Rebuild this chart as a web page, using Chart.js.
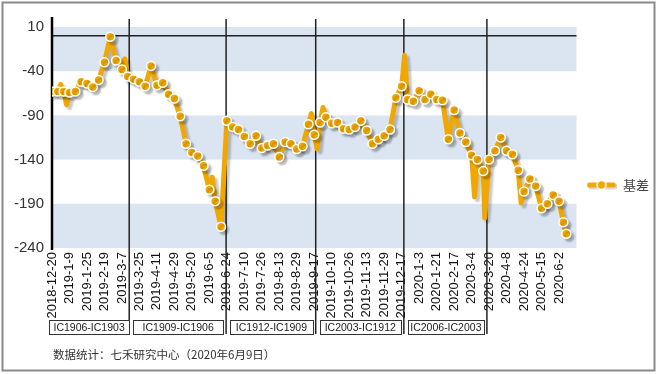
<!DOCTYPE html>
<html>
<head>
<meta charset="utf-8">
<script src="https://cdn.jsdelivr.net/npm/chart.js@4.4.1/dist/chart.umd.min.js"></script>
<style>
  body { margin: 0; background: #fff; }
  canvas { display: block; }
</style>
</head>
<body>
<canvas id="chart" width="659" height="374"></canvas>
<script>
// x axis is the trading-day index; one date label every 12 sessions
const dateLabels = ['2018-12-20', '2019-1-9', '2019-1-25', '2019-2-19', '2019-3-7', '2019-3-25',
    '2019-4-11', '2019-4-29', '2019-5-20', '2019-6-5', '2019-6-24', '2019-7-10', '2019-7-26',
    '2019-8-13', '2019-8-29', '2019-9-17', '2019-10-10', '2019-10-26', '2019-11-13', '2019-11-29',
    '2019-12-17', '2020-1-3', '2020-1-21', '2020-2-17', '2020-3-4', '2020-3-20', '2020-4-8',
    '2020-4-24', '2020-5-15', '2020-6-2'];
const labelStep = 12;

// points shown with a marker
const markerDays = [0, 4, 8, 12, 16, 20, 24, 28, 32, 36, 40, 44, 48, 52, 56, 60, 64, 68, 72, 76,
    80, 84, 88, 92, 96, 100, 104, 108, 112, 116, 120, 124, 128, 132, 136, 140, 144, 148, 152, 156,
    160, 164, 168, 172, 176, 180, 184, 188, 192, 196, 200, 204, 208, 212, 216, 220, 224, 228, 232,
    236, 240, 244, 248, 252, 256, 260, 264, 268, 272, 276, 280, 284, 288, 292, 296, 300, 304, 308,
    312, 316, 320, 324, 328, 332, 336, 340, 344, 348, 351, 353];
const markerValues = [-63, -63, -63, -64, -63, -52, -54, -58, -50, -30, -1, -28, -38, -46, -49, -52,
    -57, -34, -56, -53, -66, -71, -91, -122, -132, -136, -147, -174, -187, -216, -96, -103, -106,
    -114, -122, -113, -127, -124, -122, -137, -120, -122, -128, -125, -100, -112, -98, -92, -99,
    -98, -105, -106, -103, -96, -107, -122, -117, -113, -106, -70, -57, -72, -74, -62, -72, -66,
    -72, -73, -117, -84, -110, -120, -135, -140, -153, -140, -130, -115, -130, -134, -152, -176,
    -162, -170, -195, -190, -180, -187, -211, -224];

// one-day spikes visible in the line but without a marker
const spikeDays = [6, 10, 50, 110, 178, 182, 186, 242, 290, 297, 322];
const spikeValues = [-55, -78, -26, -160, -88, -128, -81, -22, -182, -206, -189];

// contract roll dates and the spread shown in each segment
const rollDays = [53, 119.5, 181, 241.5, 298.5];
const contracts = ['IC1906-IC1903', 'IC1909-IC1906', 'IC1912-IC1909', 'IC2003-IC1912', 'IC2006-IC2003'];

const yTicks = [-240, -190, -140, -90, -40, 10];

const orange = '#f0a800';

let points = markerDays.map((d, i) => ({ x: d, y: markerValues[i], mark: true }))
    .concat(spikeDays.map((d, i) => ({ x: d, y: spikeValues[i], mark: false })));
points.sort((a, b) => a.x - b.x);

// legend symbol: line with a marker in the middle
const legendIcon = document.createElement('canvas');
legendIcon.width = 30;
legendIcon.height = 12;
const ic = legendIcon.getContext('2d');
ic.lineCap = 'round';
ic.lineWidth = 5;
ic.strokeStyle = 'rgba(0,0,0,0.15)';
ic.beginPath(); ic.moveTo(4, 8); ic.lineTo(28, 8); ic.stroke();
ic.strokeStyle = orange;
ic.beginPath(); ic.moveTo(3, 6); ic.lineTo(27, 6); ic.stroke();
ic.beginPath(); ic.arc(15, 6, 4.5, 0, Math.PI * 2);
ic.fillStyle = orange; ic.fill();
ic.lineWidth = 1.5; ic.strokeStyle = '#fff'; ic.stroke();

const decor = {
    id: 'decor',
    beforeDatasetsDraw(chart) {
        const { ctx, chartArea: a, scales: { x, y } } = chart;
        ctx.save();
        ctx.fillStyle = '#dbe5f1';
        for (let i = 0; i < yTicks.length - 1; i += 2) {
            const top = y.getPixelForValue(yTicks[i + 1]);
            const bot = y.getPixelForValue(yTicks[i]);
            ctx.fillRect(a.left, top, a.right - a.left, bot - top);
        }
        ctx.strokeStyle = '#222';
        ctx.lineWidth = 1.5;
        const y0 = y.getPixelForValue(0);
        ctx.beginPath(); ctx.moveTo(a.left, y0); ctx.lineTo(a.right, y0); ctx.stroke();
        rollDays.forEach(d => {
            const px = x.getPixelForValue(d);
            ctx.beginPath(); ctx.moveTo(px, a.top - 8); ctx.lineTo(px, 334); ctx.stroke();
        });
        ctx.lineWidth = 2.5;
        ctx.strokeStyle = '#000';
        ctx.beginPath(); ctx.moveTo(a.left, a.top - 10); ctx.lineTo(a.left, a.bottom + 2); ctx.stroke();
        ctx.restore();
    },
    beforeDatasetDraw(chart) {
        const ctx = chart.ctx;
        ctx.save();
        ctx.shadowColor = 'rgba(0,0,0,0.22)';
        ctx.shadowOffsetX = 3;
        ctx.shadowOffsetY = 3;
        ctx.shadowBlur = 2;
    },
    afterDatasetDraw(chart) {
        chart.ctx.restore();
    },
    afterDraw(chart) {
        const { ctx, chartArea: a, scales: { x } } = chart;
        ctx.save();
        ctx.font = '10.5px "Liberation Sans", Arial, sans-serif';
        ctx.textAlign = 'center';
        ctx.textBaseline = 'middle';
        contracts.forEach((c, i) => {
            const x1 = x.getPixelForValue(rollDays[i]) - (i === 0 ? 0 : 3);
            const x0 = i === 0 ? a.left - 3 : x.getPixelForValue(rollDays[i - 1]) + 4;
            ctx.fillStyle = '#fff';
            ctx.fillRect(x0, 320, x1 - x0, 14);
            ctx.strokeStyle = '#333';
            ctx.lineWidth = 1;
            ctx.strokeRect(Math.round(x0) + 0.5, 320.5, Math.round(x1 - x0), 14);
            ctx.fillStyle = '#222';
            ctx.fillText(c, (x0 + x1) / 2, 328);
        });
        ctx.textAlign = 'left';
        ctx.fillStyle = '#333';
        ctx.font = '11.5px "Noto Sans CJK SC", sans-serif';
        ctx.fillText('数据统计：七禾研究中心（2020年6月9日）', 53, 355);
        ctx.strokeStyle = '#8a8a8a';
        ctx.lineWidth = 2;
        ctx.strokeRect(2.5, 2.5, 652, 368);
        ctx.restore();
    }
};

Chart.defaults.font.family = '"Liberation Sans", Arial, sans-serif';

new Chart(document.getElementById('chart'), {
    type: 'line',
    data: {
        datasets: [{
            label: '基差',
            data: points,
            borderColor: orange,
            backgroundColor: orange,
            borderWidth: 5,
            borderJoinStyle: 'round',
            borderCapStyle: 'round',
            tension: 0,
            pointRadius: ctx => ctx.raw && ctx.raw.mark ? 4.5 : 0,
            pointHoverRadius: 0,
            pointBackgroundColor: orange,
            pointBorderColor: '#fff',
            pointBorderWidth: 1.5
        }]
    },
    options: {
        responsive: false,
        animation: false,
        devicePixelRatio: 1,
        layout: { padding: { top: 27, right: 0, bottom: 31, left: 0 } },
        scales: {
            x: {
                type: 'linear',
                min: 0,
                max: 360,
                afterBuildTicks: s => { s.ticks = dateLabels.map((_, i) => ({ value: i * labelStep })); },
                afterFit: s => { s.height = 95; },
                grid: { display: false, drawTicks: false },
                border: { display: false },
                ticks: {
                    autoSkip: false,
                    minRotation: 90,
                    maxRotation: 90,
                    padding: 4,
                    color: '#111',
                    font: { size: 13 },
                    callback: v => dateLabels[Math.round(v / labelStep)]
                }
            },
            y: {
                min: -240,
                max: 10,
                afterBuildTicks: s => { s.ticks = yTicks.map(v => ({ value: v })); },
                afterFit: s => { s.width = 52; },
                grid: { display: false, drawTicks: false },
                border: { display: false },
                ticks: { padding: 8, color: '#333', font: { size: 15 } }
            }
        },
        plugins: {
            legend: {
                position: 'right',
                maxWidth: 84,
                labels: {
                    usePointStyle: true,
                    pointStyleWidth: 30,
                    padding: 10,
                    color: '#444',
                    font: { size: 13, family: '"Noto Sans CJK SC", sans-serif' },
                    generateLabels: chart => Chart.defaults.plugins.legend.labels.generateLabels(chart)
                        .map(item => Object.assign(item, { pointStyle: legendIcon }))
                }
            },
            tooltip: { enabled: false }
        }
    },
    plugins: [decor]
});
</script>
</body>
</html>
